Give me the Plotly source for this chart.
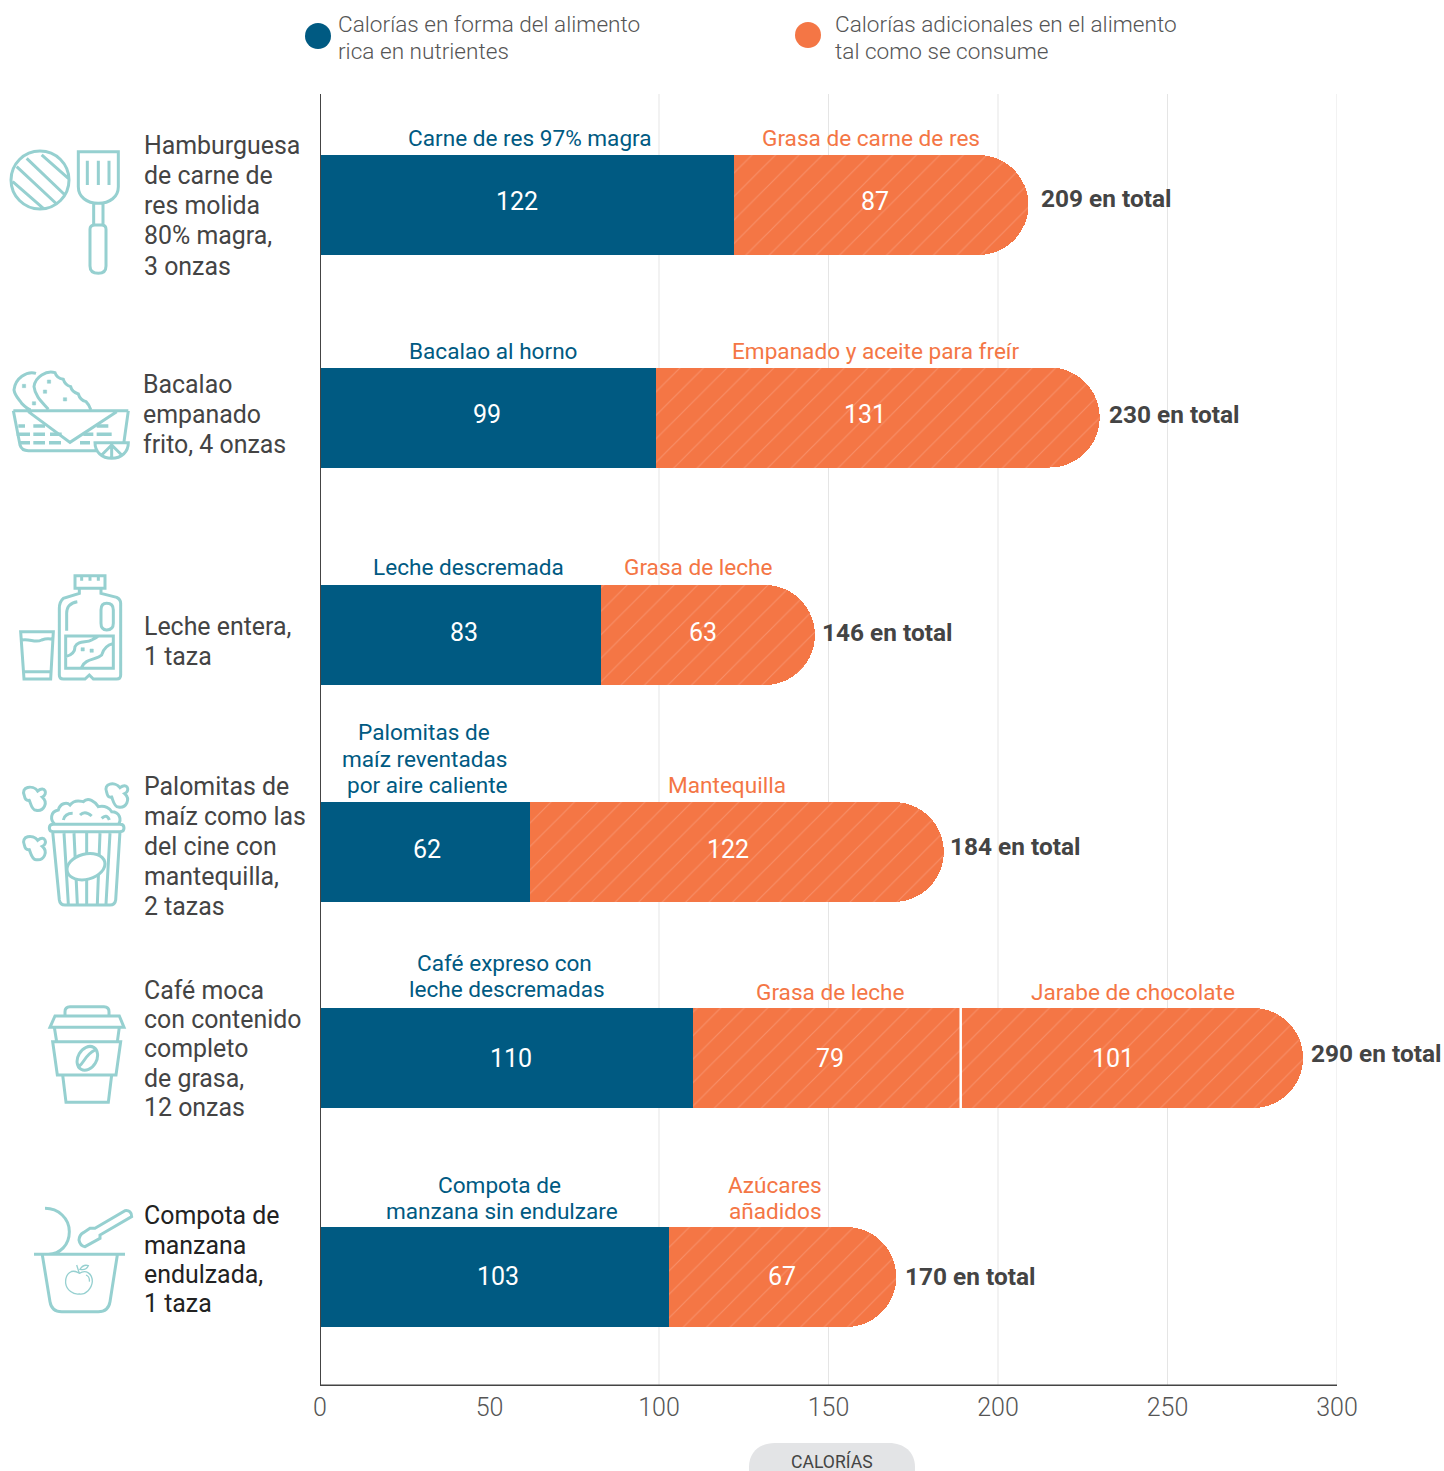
import re, math
import plotly.graph_objects as go

W, H = 1444, 1471
# ---------- data ----------
foods = ["Hamburguesa", "Bacalao", "Leche entera", "Palomitas", "Café moca", "Compota"]
nutrient_calories = [122, 99, 83, 62, 110, 103]
added_calories_1 = [87, 131, 63, 122, 79, 67]
added_calories_2 = [None, None, None, None, 101, None]
totals = [209, 230, 146, 184, 290, 170]
x_ticks = [0, 50, 100, 150, 200, 250, 300]
grid_values = [100, 150, 200, 250, 300]
legend_names = ["Calorías en forma del alimento rica en nutrientes",
                "Calorías adicionales en el alimento tal como se consume"]

# ---------- layout constants ----------
PLOT_L, PLOT_R, PLOT_T, PLOT_B = 320, 1337, 94, 1386
ROW_CENTERS = [205, 417.5, 635, 852, 1058, 1277]
BLUE, ORANGE, TEAL = "#005a82", "#f47645", "#96d0d0"
TXT = "#444444"
FONT = "Roboto"

def fx(p): return (p - PLOT_L) / (PLOT_R - PLOT_L)
def fy(p): return 1 - (p - PLOT_T) / (PLOT_B - PLOT_T)

annotations = []
def label(px, py, text, size=24.9, color=TXT, anchor="left", weight=400):
    annotations.append(dict(x=fx(px), y=fy(py), xref="paper", yref="paper", text=text, showarrow=False,
                            xanchor=anchor, yanchor="middle", borderpad=0, borderwidth=0,
                            font=dict(family=FONT, size=size, color=color, weight=weight)))

row_labels = [
    (144, 146, "Hamburguesa"), (144, 176, "de carne de"), (144, 206, "res molida"), (144, 236, "80% magra,"), (144, 267, "3 onzas"),
    (143, 385, "Bacalao"), (143, 415, "empanado"), (143, 445, "frito, 4 onzas"),
    (144, 627, "Leche entera,"), (144, 657, "1 taza"),
    (144, 787, "Palomitas de"), (144, 817, "maíz como las"), (144, 847, "del cine con"), (144, 877, "mantequilla,"), (144, 907, "2 tazas"),
    (144, 991, "Café moca"), (144, 1020, "con contenido"), (144, 1049, "completo"), (144, 1079, "de grasa,"), (144, 1108, "12 onzas"),
]
for x, y, t in row_labels:
    label(x, y - 0.4, t)
for x, y, t in [(144, 1216, "Compota de"), (144, 1246, "manzana"), (144, 1275, "endulzada,"), (144, 1304, "1 taza")]:
    label(x, y - 0.4, t, color="#222222")

blue_labels = [(530, 139, "Carne de res 97% magra"), (493, 352, "Bacalao al horno"), (468, 568, "Leche descremada"),
               (424, 733, "Palomitas de"), (424.5, 760, "maíz reventadas"), (427, 786, "por aire caliente"),
               (504, 964, "Café expreso con"), (507, 990, "leche descremadas"),
               (499, 1186, "Compota de"), (502, 1212, "manzana sin endulzare")]
orange_labels = [(871, 139, "Grasa de carne de res"), (875, 352, "Empanado y aceite para freír"), (698, 568, "Grasa de leche"),
                 (727, 786, "Mantequilla"), (830, 993, "Grasa de leche"), (1133, 993, "Jarabe de chocolate"),
                 (775, 1186, "Azúcares"), (775, 1212, "añadidos")]
for x, y, t in blue_labels:
    label(x, y - 0.8, t, size=22.6, color=BLUE, anchor="center")
for x, y, t in orange_labels:
    label(x, y - 0.8, t, size=22.6, color=ORANGE, anchor="center")

value_positions = [(517, 201, nutrient_calories[0]), (875, 201, added_calories_1[0]),
                   (487, 414, nutrient_calories[1]), (865, 414, added_calories_1[1]),
                   (464, 632, nutrient_calories[2]), (703, 632, added_calories_1[2]),
                   (427, 849, nutrient_calories[3]), (728, 849, added_calories_1[3]),
                   (511, 1058, nutrient_calories[4]), (830, 1058, added_calories_1[4]), (1113, 1058, added_calories_2[4]),
                   (498, 1276, nutrient_calories[5]), (782, 1276, added_calories_1[5])]
for x, y, v in value_positions:
    label(x, y + 0.4, str(v), size=25, color="white", anchor="center")

total_positions = [(1041, 199), (1109, 415), (822, 633), (950, 847), (1311, 1054), (905, 1277)]
for (x, y), v in zip(total_positions, totals):
    label(x, y - 0.7, f"{v} en total", size=24.4, color=TXT, weight=700)

for x, y, t in [(338, 24.2, "Calorías en forma del alimento"), (338, 51.2, "rica en nutrientes"),
                (835, 24.2, "Calorías adicionales en el alimento"), (835, 51.2, "tal como se consume")]:
    label(x, y, t, size=22.6, color="#555555", weight=300)
label(832, 1461, "CALORÍAS", size=17.6, color=TXT, anchor="center")

# ---------- shapes ----------
NUM = re.compile(r"-?\d+\.?\d*(?:e-?\d+)?")
def to_paper(path):
    idx = [0]
    def rep(m):
        v = float(m.group())
        i = idx[0]; idx[0] += 1
        return f"{fx(v):.5f}" if i % 2 == 0 else f"{fy(v):.5f}"
    return NUM.sub(rep, path)

def zoomed(path, ox, oy):
    idx = [0]
    def rep(m):
        v = float(m.group()) / 3
        i = idx[0]; idx[0] += 1
        return f"{v + (ox if i % 2 == 0 else oy):.2f}"
    return NUM.sub(rep, path)

def ellipse(cx, cy, rx, ry, deg=0):
    k = 0.5523
    a = math.radians(deg)
    def t(u, v):
        return f"{cx + u*math.cos(a) - v*math.sin(a):.2f},{cy + u*math.sin(a) + v*math.cos(a):.2f}"
    return (f"M{t(rx,0)} C{t(rx,k*ry)} {t(k*rx,ry)} {t(0,ry)} C{t(-k*rx,ry)} {t(-rx,k*ry)} {t(-rx,0)} "
            f"C{t(-rx,-k*ry)} {t(-k*rx,-ry)} {t(0,-ry)} C{t(k*rx,-ry)} {t(rx,-k*ry)} {t(rx,0)} Z")

def square(cx, cy, s=10):
    return f"M{cx-s/2},{cy-s/2} L{cx+s/2},{cy-s/2} L{cx+s/2},{cy+s/2} L{cx-s/2},{cy+s/2} Z"

def kernel(c, d):
    p = lambda a, b: f"{c+a},{d+b}"
    return (f"M{p(-30,-8)} C{p(-42,-35)} {p(-5,-42)} {p(10,-22)} C{p(32,-40)} {p(42,-12)} {p(24,-4)} "
            f"C{p(42,12)} {p(30,40)} {p(5,36)} C{p(-8,36)} {p(-12,12)} {p(-15,6)} C{p(-25,8)} {p(-28,2)} {p(-30,-8)} Z")

shapes = []
def icon(path, ox, oy, width=3.0, fill="rgba(0,0,0,0)", color=TEAL):
    shapes.append(dict(type="path", xref="paper", yref="paper", path=to_paper(zoomed(path, ox, oy)),
                       line=dict(color=color, width=width), fillcolor=fill, layer="above"))

# burger & spatula
icon(ellipse(120, 150, 87, 87) + " M125,75 L205,145 M80,85 L195,195 M50,110 L170,222 M38,155 L130,235", 0, 130)
icon("M235,65 L355,65 L355,170 C355,200 330,220 295,220 C260,220 235,200 235,170 Z "
     "M262,92 L262,165 M295,92 L295,165 M327,92 L327,165 M281,220 L281,285 M309,220 L309,285 "
     "M285,285 L305,285 Q318,285 318,298 L318,408 Q318,430 295,430 Q270,430 270,408 L270,298 Q270,285 285,285 Z", 0, 130)
# fish basket
icon("M108,730 C80,722 45,745 42,780 C45,800 60,810 65,820 C75,830 85,838 92,840 "
     "M145,838 C130,820 105,800 102,770 C105,740 140,720 165,728 "
     "Q170,745 190,748 Q195,765 212,770 Q215,785 235,792 Q240,810 258,815 Q268,825 272,838 "
     "M40,842 L385,842 M40,842 L60,945 Q65,962 85,962 L290,962 M385,842 L372,935 M85,845 L210,937 L350,845 "
     "M285,938 L385,938 C385,965 365,985 335,985 C305,985 285,965 285,938 Z M335,940 L335,985 M335,945 L305,975 M335,945 L365,975", 0, 130)
icon("M55,888 L75,888 M100,888 L135,888 M290,888 L325,888 M50,913 L90,913 M100,913 L135,913 M150,913 L185,913 M250,913 L280,913 M290,913 L335,913 "
     "M60,938 L90,938 M100,938 L135,938 M147,938 L183,938 M240,938 L270,938", 0, 130, width=3.5)
icon(" ".join(square(a, b) for a, b in [(72, 768), (147, 755), (135, 785), (195, 808), (102, 820)]), 0, 130, width=0.5, fill=TEAL)
# milk
icon("M225,47 L315,47 L315,85 L225,85 Z M238,85 L238,100 L190,115 Q178,125 178,145 L178,345 Q178,357 190,357 L255,357 L268,345 L280,357 L350,357 "
     "Q362,357 362,345 L362,130 Q362,118 350,112 L303,100 L303,85 M232,125 Q200,130 200,160 L200,212 "
     "M320,130 Q340,130 340,150 L340,190 Q340,210 320,210 Q303,210 303,190 L303,150 Q303,130 320,130 Z "
     "M197,228 L340,228 L340,325 L197,325 Z M197,290 C215,285 225,275 225,260 C235,240 260,250 275,240 "
     "M245,322 C255,295 290,300 305,285 C310,265 320,255 340,250 M275,240 C285,235 290,232 295,228 "
     "M62,215 L160,215 L152,357 L72,357 Z M65,240 C90,235 105,250 125,240 C140,235 150,235 160,240 M70,335 L155,335 "
     "M245,47 L245,62 M270,47 L270,62 M295,47 L295,62", 0, 560)
icon(square(248, 268) + " " + square(275, 272), 0, 560, width=0.5, fill=TEAL)
# popcorn
icon("M165,793 C150,780 150,755 175,750 C180,730 200,725 210,735 C225,715 245,725 250,725 C265,710 285,725 295,740 C315,735 330,745 335,755 C360,755 365,780 355,793 "
     "M190,780 Q195,760 218,760 M240,765 Q255,750 275,768 M305,775 Q320,760 328,780 "
     "M160,793 L360,793 Q372,793 372,804 Q372,815 360,815 L160,815 Q148,815 148,804 Q148,793 160,793 Z "
     "M158,815 L178,1020 Q180,1035 195,1035 L330,1035 Q345,1035 347,1020 L360,815 "
     "M192,820 L205,1032 M222,820 L232,1032 M260,820 L260,1032 M300,820 L292,1032 M330,820 L318,1032 "
     + kernel(103, 715) + " " + kernel(350, 705) + " " + kernel(103, 863), 0, 560)
icon(ellipse(258, 920, 58, 38, -15), 0, 560, fill="white")
# coffee
icon("M195,78 L195,65 Q195,50 210,50 L312,50 Q327,50 327,65 L327,78 M165,78 L358,78 L372,112 L150,112 Z "
     "M163,112 L170,155 M358,112 L352,155 M158,155 L362,155 L348,255 L172,255 Z M188,255 L198,337 L325,337 L335,255 "
     + ellipse(262, 205, 28, 38, 30) + " M238,228 C255,215 255,195 285,180", 0, 990)
# apple sauce
icon("M135,655 C175,655 208,685 208,725 C208,765 180,792 145,793 M102,793 L375,793 "
     "M127,795 L150,935 Q155,965 185,965 L295,965 Q325,965 330,935 L352,795 "
     "M285,715 L375,662 Q395,660 395,680 L300,735 L300,745 L255,770 Q240,768 237,750 Q238,735 250,728 L270,715 Z", 0, 990)
icon("M238,850 C215,835 195,850 197,880 C200,900 220,915 238,912 C258,915 275,895 277,875 C277,850 258,838 238,850 Z "
     "M238,850 L230,825 M240,838 Q250,822 265,827 Q258,842 240,838 Z M258,855 Q270,860 268,875", 0, 990, width=1.3)

# legend dots
for cx, cy, col in [(318, 36, BLUE), (808, 35, ORANGE)]:
    shapes.append(dict(type="circle", xref="paper", yref="paper", x0=fx(cx-13), x1=fx(cx+13), y0=fy(cy+13), y1=fy(cy-13),
                       fillcolor=col, line=dict(width=0), layer="above"))
# x-axis title pill
shapes.append(dict(type="path", xref="paper", yref="paper", fillcolor="#e3e4e6", line=dict(width=0), layer="below",
                   path=to_paper("M749,1480 L749,1467 C749,1452 760,1443 775,1443 L889,1443 C904,1443 915,1452 915,1467 L915,1480 Z")))
# white divider between the two added-calorie segments of the coffee row
shapes.append(dict(type="line", xref="x", yref="y", x0=nutrient_calories[4] + added_calories_1[4],
                   x1=nutrient_calories[4] + added_calories_1[4], y0=ROW_CENTERS[4] - 50, y1=ROW_CENTERS[4] + 50,
                   line=dict(color="white", width=2.5), layer="above"))
# gridlines and axis lines
for g in grid_values:
    shapes.append(dict(type="line", xref="x", yref="y", x0=g, x1=g, y0=PLOT_T, y1=PLOT_B,
                       line=dict(color="#e5e5e5", width=1), layer="below"))
shapes.append(dict(type="line", xref="x", yref="y", x0=0, x1=0, y0=PLOT_T, y1=PLOT_B,
                   line=dict(color="#444444", width=2), layer="above"))
shapes.append(dict(type="line", xref="x", yref="y", x0=0, x1=300, y0=PLOT_B - 0.5, y1=PLOT_B - 0.5,
                   line=dict(color="#444444", width=2), layer="above"))

# ---------- figure ----------
pattern = dict(shape="/", fgcolor="#f88f68", bgcolor=ORANGE, size=16.6, solidity=0.07, fillmode="replace")
fig = go.Figure()
fig.add_bar(y=ROW_CENTERS, x=nutrient_calories, orientation="h", width=100, name=legend_names[0], text=foods, textposition="none",
            marker=dict(color=BLUE, line=dict(width=0)))
fig.add_bar(y=ROW_CENTERS, x=added_calories_1, orientation="h", width=100, name=legend_names[1], textposition="none",
            marker=dict(color=ORANGE, line=dict(width=0), pattern=pattern, cornerradius=50))
fig.add_bar(y=ROW_CENTERS, x=added_calories_2, orientation="h", width=100, name=legend_names[1], textposition="none",
            marker=dict(color=ORANGE, line=dict(width=0), pattern=pattern, cornerradius=50))

fig.update_layout(
    width=W, height=H, barmode="stack", showlegend=False,
    margin=dict(l=PLOT_L, r=W - PLOT_R, t=PLOT_T, b=H - PLOT_B, pad=0),
    paper_bgcolor="white", plot_bgcolor="white", font=dict(family=FONT, color=TXT),
    annotations=annotations, shapes=shapes,
    xaxis=dict(range=[0, 300], tickvals=x_ticks, ticks="", showgrid=False,
               zeroline=False, showline=False, ticklabelstandoff=4,
               tickfont=dict(family=FONT, size=25, color="#555555", weight=300)),
    yaxis=dict(range=[PLOT_B, PLOT_T], showticklabels=False, ticks="", showgrid=False,
               zeroline=False, showline=False),
)
fig.write_html("out.html", config={"displayModeBar": False},
               post_script="document.body.style.margin='0';document.body.style.overflow='hidden';")
